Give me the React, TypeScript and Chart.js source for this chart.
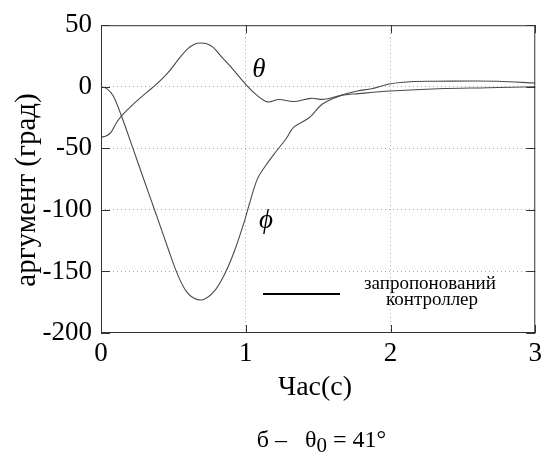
import React, { useEffect, useRef } from "react";
import { Chart, registerables } from "chart.js";

Chart.register(...registerables);

// ---- data ----
const thetaTime = [0, 0.035, 0.069, 0.108, 0.153, 0.222, 0.314, 0.382, 0.46, 0.543, 0.6, 0.65, 0.69, 0.735, 0.775, 0.84, 0.909, 1.0, 1.07, 1.149, 1.23, 1.33, 1.45, 1.54, 1.66, 1.78, 2.0, 2.33, 2.67, 3.0];
const thetaValues = [-41, -40, -37, -29, -22.3, -14.3, -4.8, 1.9, 11, 23.4, 31, 34.8, 35.5, 34.8, 32, 23.4, 14.5, 1.9, -6.2, -12.3, -10.4, -12, -9.4, -10.2, -7, -5.6, -3.5, -1.6, -0.8, 0];

const phiTime = [0, 0.04, 0.085, 0.142, 0.222, 0.302, 0.382, 0.462, 0.531, 0.588, 0.64, 0.703, 0.783, 0.852, 0.92, 0.989, 1.023, 1.08, 1.138, 1.207, 1.28, 1.33, 1.44, 1.53, 1.66, 1.77, 1.87, 2.0, 2.17, 2.3, 2.74, 3.0];
const phiValues = [0, -1.5, -7.5, -24, -50.5, -77.4, -104, -131, -153, -166, -171.5, -173, -166, -152.7, -134, -110, -96, -75, -64, -53, -42, -33, -25, -14, -7, -3.5, -1.6, 2.4, 4.3, 4.5, 4.5, 3];

const xTickValues = [0, 1, 2, 3];
const yTickValues = [50, 0, -50, -100, -150, -200];

const xTitle = "Час(с)";
const yTitle = "аргумент (град)";
const legendLines = ["запропонований", "контроллер"];
const thetaLabel = { text: "θ", x: 1.09, y: 13.5 };
const phiLabel = { text: "ϕ", x: 1.14, y: -109 };
const captionParts = { before: "б –   θ", sub: "0", after: " = 41°" };

const SERIF = "'Liberation Serif', 'Times New Roman', serif";

export default function App() {
  const ref = useRef<HTMLCanvasElement | null>(null);

  useEffect(() => {
    if (!ref.current) return;

    const decor = {
      id: "decor",
      afterDraw(chart: any) {
        const { ctx, chartArea } = chart;
        const { left, right, top, bottom } = chartArea;
        const xs = chart.scales.x;
        const ys = chart.scales.y;
        ctx.save();
        ctx.setLineDash([]);
        // frame
        ctx.strokeStyle = "#333";
        ctx.lineWidth = 1;
        ctx.strokeRect(left + 0.5, top + 0.5, right - left - 1, bottom - top - 1);
        // inner ticks
        ctx.beginPath();
        xTickValues.forEach((v) => {
          const px = Math.round(xs.getPixelForValue(v)) + 0.5;
          ctx.moveTo(px, bottom);
          ctx.lineTo(px, bottom - 8);
          ctx.moveTo(px, top);
          ctx.lineTo(px, top + 8);
        });
        yTickValues.forEach((v) => {
          const py = Math.round(ys.getPixelForValue(v)) + 0.5;
          ctx.moveTo(left, py);
          ctx.lineTo(left + 9, py);
          ctx.moveTo(right, py);
          ctx.lineTo(right - 9, py);
        });
        ctx.stroke();

        // curve labels
        ctx.fillStyle = "#000";
        ctx.textAlign = "center";
        ctx.textBaseline = "middle";
        ctx.font = `italic 27px ${SERIF}`;
        ctx.fillText(thetaLabel.text, xs.getPixelForValue(thetaLabel.x), ys.getPixelForValue(thetaLabel.y));
        ctx.fillText(phiLabel.text, xs.getPixelForValue(phiLabel.x), ys.getPixelForValue(phiLabel.y));

        // legend
        ctx.strokeStyle = "#000";
        ctx.lineWidth = 2;
        ctx.beginPath();
        ctx.moveTo(263, 294);
        ctx.lineTo(340, 294);
        ctx.stroke();
        ctx.font = `19px ${SERIF}`;
        ctx.fillText(legendLines[0], 430, 284);
        ctx.fillText(legendLines[1], 432, 300);

        // axis titles
        ctx.font = `28px ${SERIF}`;
        ctx.fillText(xTitle, 315, 388);
        ctx.save();
        ctx.font = `29px ${SERIF}`;
        ctx.translate(27, 190);
        ctx.rotate(-Math.PI / 2);
        ctx.fillText(yTitle, 0, 0);
        ctx.restore();

        // caption
        ctx.textAlign = "left";
        ctx.textBaseline = "alphabetic";
        const capFont = `24px ${SERIF}`;
        const subFont = `21px ${SERIF}`;
        ctx.font = capFont;
        const w1 = ctx.measureText(captionParts.before).width;
        const w3 = ctx.measureText(captionParts.after).width;
        ctx.font = subFont;
        const w2 = ctx.measureText(captionParts.sub).width;
        const total = w1 + w2 + w3;
        let cx = 321.5 - total / 2;
        const base = 447;
        ctx.font = capFont;
        ctx.fillText(captionParts.before, cx, base);
        cx += w1;
        ctx.font = subFont;
        ctx.fillText(captionParts.sub, cx, base + 5);
        cx += w2;
        ctx.font = capFont;
        ctx.fillText(captionParts.after, cx, base);
        ctx.restore();
      },
    };

    const gridColor = (edgeA: number, edgeB: number) => (c: any) =>
      c.tick && (c.tick.value === edgeA || c.tick.value === edgeB) ? "rgba(0,0,0,0)" : "#a8a8a8";

    const chart = new Chart(ref.current, {
      type: "line",
      data: {
        datasets: [
          {
            label: "theta",
            data: thetaTime.map((t, i) => ({ x: t, y: thetaValues[i] })),
            borderColor: "#4a4a4a",
            borderWidth: 1.1,
            pointRadius: 0,
            fill: false,
            tension: 0.35,
          },
          {
            label: "phi",
            data: phiTime.map((t, i) => ({ x: t, y: phiValues[i] })),
            borderColor: "#4a4a4a",
            borderWidth: 1.1,
            pointRadius: 0,
            fill: false,
            tension: 0.35,
          },
        ],
      },
      options: {
        animation: false,
        responsive: true,
        maintainAspectRatio: false,
        layout: { padding: { left: 0, top: 22, right: 9, bottom: 0 } },
        plugins: { legend: { display: false }, tooltip: { enabled: false } },
        scales: {
          x: {
            type: "linear",
            min: 0,
            max: 3,
            afterFit: (s: any) => {
              s.height = 121;
            },
            afterBuildTicks: (s: any) => {
              s.ticks = xTickValues.map((v) => ({ value: v }));
            },
            ticks: {
              padding: 5,
              color: "#000",
              maxRotation: 0,
              font: { family: SERIF, size: 27 },
              callback: (v: any) => String(v),
            },
            grid: { drawTicks: false, color: gridColor(0, 3), lineWidth: 1 },
            border: { display: false, dash: [1, 3] },
          },
          y: {
            type: "linear",
            min: -200,
            max: 50,
            afterFit: (s: any) => {
              s.width = 101;
            },
            afterBuildTicks: (s: any) => {
              s.ticks = yTickValues.map((v) => ({ value: v }));
            },
            ticks: {
              padding: 9,
              color: "#000",
              font: { family: SERIF, size: 27 },
              callback: (v: any) => String(v),
            },
            grid: { drawTicks: false, color: gridColor(50, -200), lineWidth: 1 },
            border: { display: false, dash: [1, 3] },
          },
        },
      },
      plugins: [decor],
    });
    return () => chart.destroy();
  }, []);

  return (
    <div style={{ position: "absolute", left: 0, top: 0, width: 547, height: 454, background: "#fff" }}>
      <canvas ref={ref} />
    </div>
  );
}
